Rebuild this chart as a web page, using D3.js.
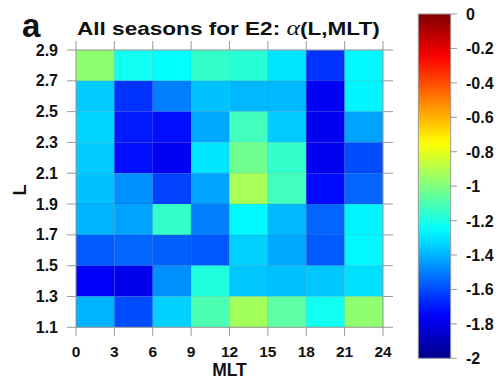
<!DOCTYPE html>
<html><head><meta charset="utf-8">
<script src="https://cdn.jsdelivr.net/npm/d3@7"></script>
<style>
body{margin:0;background:#fff;}
text{font-family:"Liberation Sans",Arial,sans-serif;font-weight:bold;fill:#111;}
</style></head>
<body><svg id="c" width="502" height="381"></svg>
<script>
// MLT bin starts (hours) and L bin lower edges
const mltTicks = [0,3,6,9,12,15,18,21,24];
const lTicks = [1.1,1.3,1.5,1.7,1.9,2.1,2.3,2.5,2.7,2.9];
const mltBins = [0,3,6,9,12,15,18,21];
// rows from top (L 2.7-2.9) to bottom (L 1.1-1.3)
const lRows = [2.7,2.5,2.3,2.1,1.9,1.7,1.5,1.3,1.1];
const alphaValues = [
  [-0.97,-1.22,-1.25,-1.15,-1.17,-1.30,-1.65,-1.26],
  [-1.35,-1.65,-1.50,-1.37,-1.39,-1.39,-1.77,-1.27],
  [-1.33,-1.70,-1.72,-1.42,-1.12,-1.35,-1.78,-1.43],
  [-1.35,-1.72,-1.77,-1.30,-1.03,-1.15,-1.78,-1.60],
  [-1.37,-1.47,-1.62,-1.43,-0.92,-1.12,-1.73,-1.55],
  [-1.40,-1.43,-1.15,-1.50,-1.26,-1.39,-1.55,-1.27],
  [-1.57,-1.55,-1.56,-1.58,-1.34,-1.42,-1.57,-1.26],
  [-1.76,-1.79,-1.47,-1.19,-1.36,-1.37,-1.36,-1.31],
  [-1.40,-1.60,-1.34,-1.10,-0.93,-1.07,-1.22,-0.97]
];
const cbTicks = [0,-0.2,-0.4,-0.6,-0.8,-1,-1.2,-1.4,-1.6,-1.8,-2];

const svg = d3.select("#c");
const x = d3.scaleLinear().domain([0,24]).range([76,383]);
const y = d3.scaleLinear().domain([1.1,2.9]).range([327.3,50]);
const jet = d3.scaleLinear()
  .domain([-2,-1.75,-1.25,-0.75,-0.25,0])
  .range(["#000088","#0000ff","#00ffff","#ffff00","#ff0000","#800000"])
  .clamp(true);

const cells = [];
lRows.forEach((l,i)=>mltBins.forEach((m,j)=>cells.push({l,m,v:alphaValues[i][j]})));
svg.append("g").selectAll("rect").data(cells).join("rect")
  .attr("x",d=>x(d.m)).attr("y",d=>y(d.l+0.2))
  .attr("width",d=>x(d.m+3)-x(d.m)).attr("height",d=>y(d.l)-y(d.l+0.2))
  .attr("fill",d=>jet(d.v))
  .attr("stroke","rgba(0,0,0,0.07)").attr("stroke-width",1);

const tc = "#9a9a9a";
const g = svg.append("g");
g.append("rect").attr("x",x(0)).attr("y",y(2.9)).attr("width",x(24)-x(0)).attr("height",y(1.1)-y(2.9))
  .attr("fill","none").attr("stroke",tc).attr("stroke-width",1);
mltTicks.forEach(t=>{
  g.append("line").attr("x1",x(t)).attr("x2",x(t)).attr("y1",y(2.9)-9).attr("y2",y(2.9)).attr("stroke",tc);
  g.append("line").attr("x1",x(t)).attr("x2",x(t)).attr("y1",y(1.1)).attr("y2",y(1.1)+9).attr("stroke",tc);
});
lTicks.forEach(t=>{
  g.append("line").attr("y1",y(t)).attr("y2",y(t)).attr("x1",x(0)-9).attr("x2",x(0)).attr("stroke",tc);
  g.append("line").attr("y1",y(t)).attr("y2",y(t)).attr("x1",x(24)).attr("x2",x(24)+10).attr("stroke",tc);
});
svg.append("g").selectAll("text").data(lTicks).join("text")
  .attr("x",58).attr("y",d=>y(d)+5.5).attr("text-anchor","end")
  .attr("font-size",16).text(d=>d.toFixed(1));
svg.append("g").selectAll("text").data(mltTicks).join("text")
  .attr("x",d=>x(d)).attr("y",357).attr("text-anchor","middle")
  .attr("font-size",15.5).text(d=>d);
svg.append("text").attr("x",x(12)).attr("y",376).attr("text-anchor","middle").attr("font-size",17.5).text("MLT");
svg.append("text").attr("transform","translate(26,190) rotate(-90)").attr("text-anchor","middle").attr("font-size",18).text("L");
// title
svg.append("text").attr("x",22).attr("y",37).attr("font-size",33).text("a");
const title = svg.append("text").attr("font-size",17.5);
title.append("tspan").text("All seasons for E2: ");
title.append("tspan").attr("font-family","'Liberation Serif',serif").attr("font-style","italic").attr("font-weight","normal").attr("font-size",20).text("α");
title.append("tspan").text("(L,MLT)");
const tw = title.node().getBBox().width;
title.attr("transform",`translate(77,34.5) scale(${303/tw},1)`);

// colorbar
const cb = d3.scaleLinear().domain([-2,0]).range([358.3,14]);
const defs = svg.append("defs");
const grad = defs.append("linearGradient").attr("id","jetg").attr("x1",0).attr("x2",0).attr("y1",1).attr("y2",0);
d3.range(0,1.0001,0.02).forEach(t=>grad.append("stop").attr("offset",t).attr("stop-color",jet(-2+2*t)));
svg.append("rect").attr("x",418.3).attr("y",cb(0)).attr("width",32.4).attr("height",cb(-2)-cb(0))
  .attr("fill","url(#jetg)").attr("stroke",tc);
cbTicks.forEach(t=>{
  svg.append("line").attr("x1",450.7).attr("x2",457).attr("y1",cb(t)).attr("y2",cb(t)).attr("stroke",tc);
});
svg.append("g").selectAll("text").data(cbTicks).join("text")
  .attr("x",466).attr("y",d=>cb(d)+6).attr("font-size",16).text(d=>String(d));
</script></body></html>
